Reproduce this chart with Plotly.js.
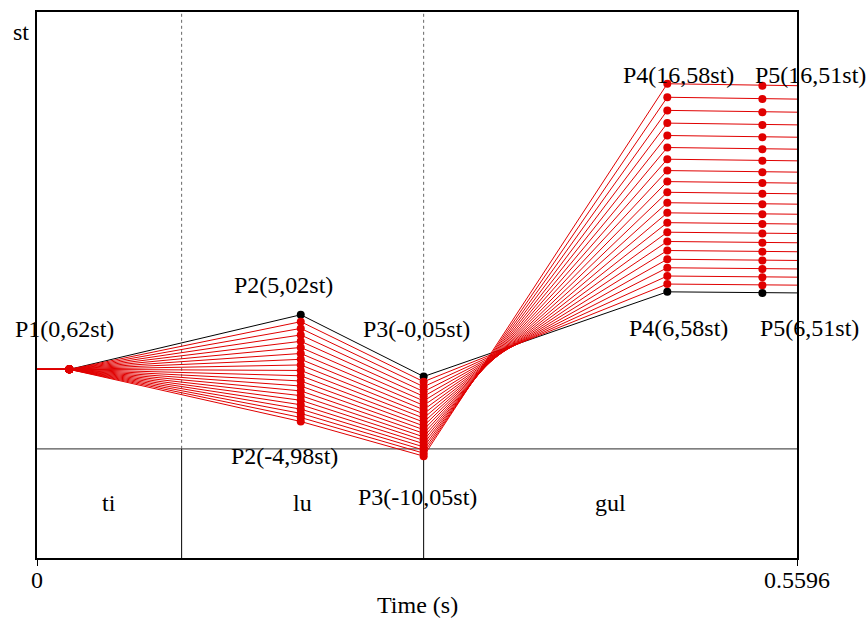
<!DOCTYPE html>
<html>
<head>
<meta charset="utf-8">
<script src="https://cdn.plot.ly/plotly-3.0.1.min.js"></script>
<style>html,body{margin:0;padding:0;background:#fff;}#chart{width:868px;height:618px;}</style>
</head>
<body>
<div id="chart"></div>
<script>
// Time points of the pitch targets (s): start, P1, P2, P3, P4, P5, end
const pointTimes = [0, 0.0238, 0.1942, 0.2847, 0.4641, 0.5341, 0.5596];
const endTime = 0.5596;
// Pitch target values in semitones re 100 Hz (contour 0 = original, black)
const p1St = 0.62;
const p2St = [5.02, 4.52, 4.02, 3.52, 3.02, 2.52, 2.02, 1.52, 1.02, 0.52, 0.02, -0.48, -0.98, -1.48, -1.98, -2.48, -2.98, -3.48, -3.98, -4.48, -4.98];
const p3St = [-0.05, -0.55, -1.05, -1.55, -2.05, -2.55, -3.05, -3.55, -4.05, -4.55, -5.05, -5.55, -6.05, -6.55, -7.05, -7.55, -8.05, -8.55, -9.05, -9.55, -10.05];
const p4St = [6.58, 7.08, 7.58, 8.08, 8.58, 9.08, 9.58, 10.08, 10.58, 11.08, 11.58, 12.08, 12.58, 13.08, 13.58, 14.08, 14.58, 15.08, 15.58, 16.08, 16.58];
const p5St = [6.51, 7.01, 7.51, 8.01, 8.51, 9.01, 9.51, 10.01, 10.51, 11.01, 11.51, 12.01, 12.51, 13.01, 13.51, 14.01, 14.51, 15.01, 15.51, 16.01, 16.51];
const refHz = 100;
const yRangeHz = [0, 300];
// Text grid (syllables)
const boundaries = [0.1065, 0.2847];
const syllables = ["ti", "lu", "gul"];
const tickVals = [0, 0.5596];
const tickText = ["0", "0.5596"];
// Point labels (x and y as fractions of the plot area)
const labelTexts = ["P1(0,62st)", "P2(5,02st)", "P3(-0,05st)", "P2(-4,98st)", "P3(-10,05st)", "P4(16,58st)", "P5(16,51st)", "P4(6,58st)", "P5(6,51st)"];
const labelX = [0.0368, 0.3237, 0.4993, 0.3250, 0.5000, 0.8447, 1.0184, 0.8447, 1.0171];
const labelY = [0.4203, 0.5000, 0.4203, 0.1877, 0.1117, 0.8855, 0.8855, 0.4212, 0.4212];

const FONT = "Liberation Serif";
const FS = 24;
const RED = "#e00000";
const stToHz = s => refHz * Math.pow(2, s / 12);

const traces = [];
for (let k = 0; k < p2St.length; k++) {
  const col = k === 0 ? "#000000" : RED;
  const y = [p1St, p1St, p2St[k], p3St[k], p4St[k], p5St[k], p5St[k]].map(stToHz);
  traces.push({
    type: "scatter", mode: "lines+markers",
    x: pointTimes, y: y,
    line: {color: col, width: 1},
    marker: {color: col, size: [0, 8, 8, 8, 8, 8, 0], opacity: 1, line: {width: 0}},
    hoverinfo: "skip", showlegend: false, cliponaxis: false
  });
}

const tierFrac = 0.2;
const shapes = [
  {type: "line", xref: "x", yref: "paper", x0: 0, x1: endTime, y0: tierFrac, y1: tierFrac, line: {color: "#555", width: 1.2}, layer: "below"}
];
boundaries.forEach(b => {
  shapes.push({type: "line", xref: "x", yref: "paper", x0: b, x1: b, y0: tierFrac, y1: 1, line: {color: "#666", width: 1, dash: "dot"}, layer: "below"});
  shapes.push({type: "line", xref: "x", yref: "paper", x0: b, x1: b, y0: 0, y1: tierFrac, line: {color: "#000", width: 1}, layer: "below"});
});

const txtFont = {family: FONT, size: FS, color: "#000"};
const annotations = [];
labelTexts.forEach((t, i) => annotations.push({
  text: t, x: labelX[i], xref: "paper", y: labelY[i], yref: "paper",
  showarrow: false, xanchor: "center", yanchor: "middle", font: txtFont
}));
const edges = [0].concat(boundaries, [endTime]);
syllables.forEach((s, i) => annotations.push({
  text: s, x: (edges[i] + edges[i + 1]) / 2, xref: "x", y: tierFrac / 2, yref: "paper",
  showarrow: false, xanchor: "center", yanchor: "middle", font: txtFont
}));
tickVals.forEach((v, i) => annotations.push({
  text: tickText[i], x: v, xref: "x", y: -0.0412, yref: "paper",
  showarrow: false, xanchor: "center", yanchor: "middle", font: txtFont
}));
annotations.push({text: "st", x: -0.0204, xref: "paper", y: 0.9634, yref: "paper", showarrow: false, xanchor: "center", yanchor: "middle", font: txtFont});
annotations.push({text: "Time (s)", x: 0.5, xref: "paper", y: -0.0855, yref: "paper", showarrow: false, xanchor: "center", yanchor: "middle", font: txtFont});

const layout = {
  width: 868, height: 618,
  margin: {l: 37, r: 71, t: 12, b: 60},
  paper_bgcolor: "#fff", plot_bgcolor: "#fff",
  showlegend: false,
  font: {family: FONT, color: "#000"},
  xaxis: {
    range: [0, endTime], showgrid: false, zeroline: false,
    showline: true, mirror: true, linecolor: "#000", linewidth: 2,
    ticks: "outside", ticklen: 6, tickwidth: 1, tickcolor: "#000",
    tickvals: tickVals, showticklabels: false
  },
  yaxis: {
    range: yRangeHz, showgrid: false, zeroline: false,
    showline: true, mirror: true, linecolor: "#000", linewidth: 2,
    showticklabels: false, ticks: ""
  },
  shapes: shapes,
  annotations: annotations
};

Plotly.newPlot("chart", traces, layout, {staticPlot: true, displayModeBar: false});
</script>
</body>
</html>
